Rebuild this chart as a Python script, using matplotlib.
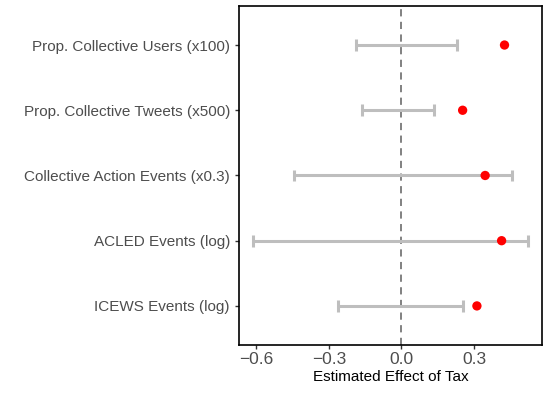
import matplotlib
matplotlib.use('Agg')
import matplotlib.pyplot as plt

outcomes = ['ICEWS Events (log)', 'ACLED Events (log)', 'Collective Action Events (x0.3)',
            'Prop. Collective Tweets (x500)', 'Prop. Collective Users (x100)']
estimate = [0.312, 0.414, 0.346, 0.253, 0.426]
ci_low = [-0.261, -0.613, -0.442, -0.163, -0.187]
ci_high = [0.254, 0.523, 0.457, 0.135, 0.229]
xticks = [-0.6, -0.3, 0.0, 0.3]
xticklabels = ['\u22120.6', '\u22120.3', '0.0', '0.3']

plt.rcParams['font.family'] = ['Liberation Sans', 'DejaVu Sans']

fig = plt.figure(figsize=(5.5, 3.93), dpi=100)
ax = fig.add_axes([0.4345, 0.122, 0.551, 0.863])

ypos = list(range(1, len(outcomes) + 1))
ax.axvline(0, color='#777777', linestyle=(0, (4, 3)), linewidth=1.3, zorder=1)
for y, lo, hi in zip(ypos, ci_low, ci_high):
    ax.hlines(y, lo, hi, color='#bebebe', linewidth=2.2, zorder=2)
    ax.vlines([lo, hi], y - 0.09, y + 0.09, color='#bebebe', linewidth=2.2, zorder=2)
ax.scatter(estimate, ypos, color='red', s=45, zorder=3, edgecolors='none')

ax.set_xlim(-0.671, 0.581)
ax.set_ylim(0.4, 5.6)
ax.set_xticks(xticks)
ax.set_xticklabels(xticklabels)
ax.set_yticks(ypos)
ax.set_yticklabels(outcomes)
ax.tick_params(axis='both', colors='#333333', labelcolor='#4d4d4d', length=3, width=1)
ax.tick_params(axis='y', labelsize=11)
ax.tick_params(axis='x', labelsize=12.5, pad=2)
ax.set_xlabel('Estimated Effect of Tax', fontsize=11, color='black', labelpad=2)
for s in ax.spines.values():
    s.set_linewidth(1.2)
    s.set_color('black')

plt.savefig('out.png', dpi=100)
